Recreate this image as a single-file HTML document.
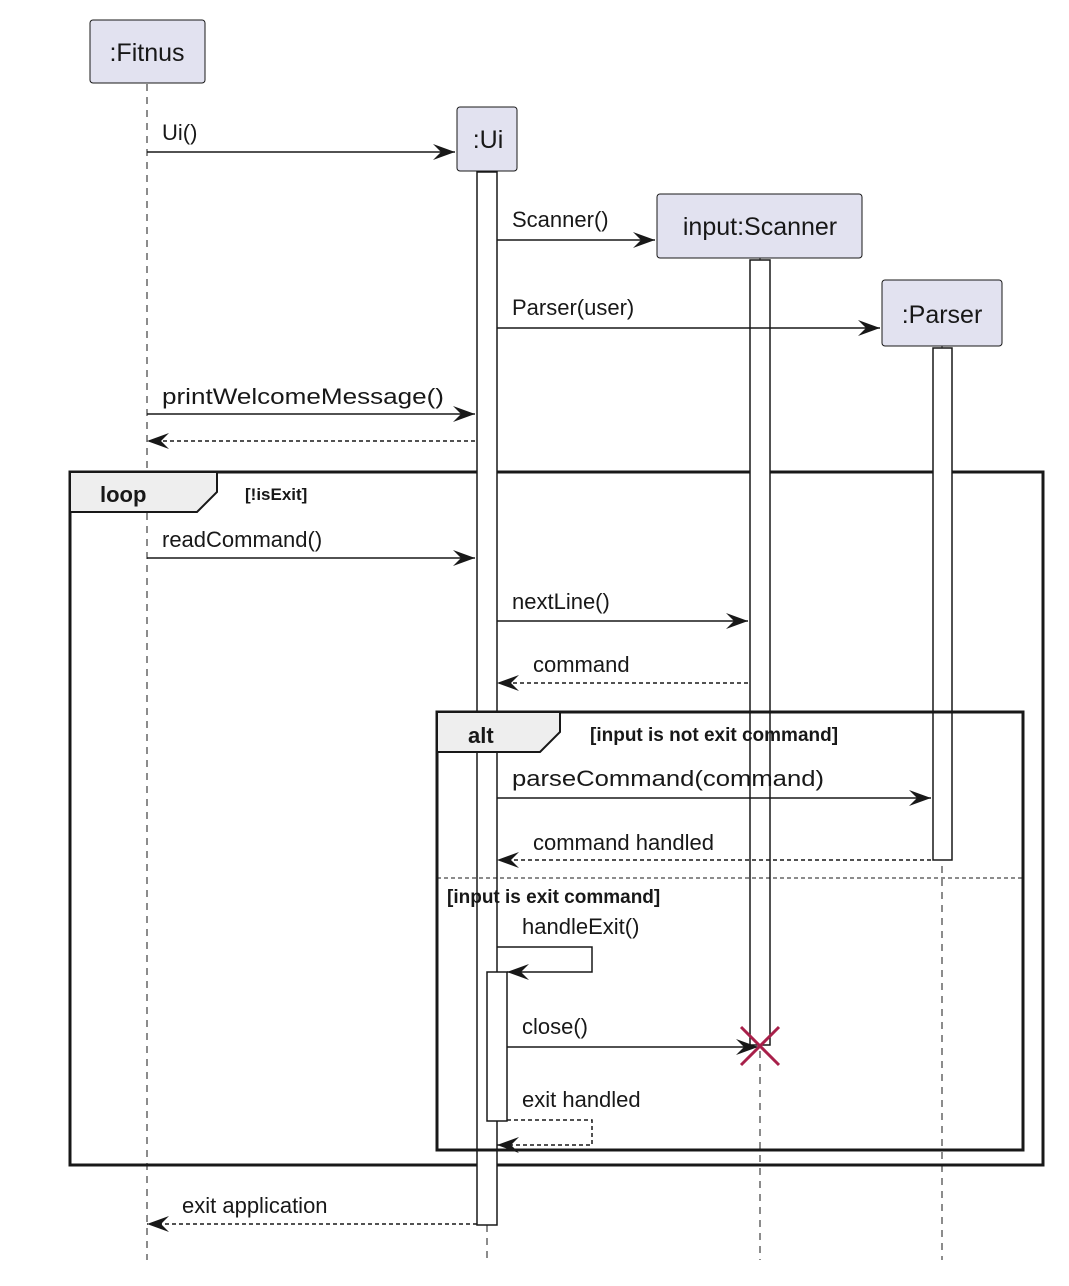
<!DOCTYPE html>
<html><head><meta charset="utf-8"><style>html,body{margin:0;padding:0;background:#fff}svg{display:block}</style></head>
<body>
<svg width="1069" height="1286" viewBox="0 0 1069 1286" xmlns="http://www.w3.org/2000/svg" font-family="Liberation Sans, sans-serif">
<defs>
<marker id="ah" markerWidth="24" markerHeight="18" refX="22" refY="9" orient="auto" markerUnits="userSpaceOnUse">
<path d="M0,1 L22,9 L0,17 L8,9 Z" fill="#181818"/>
</marker>
</defs>
<rect width="1069" height="1286" fill="#fff"/>
<g stroke="#181818" stroke-width="1" stroke-dasharray="7,6" fill="none">
<line x1="147" y1="84" x2="147" y2="1260"/>
<line x1="487" y1="172" x2="487" y2="1260"/>
<line x1="760" y1="258" x2="760" y2="1260"/>
<line x1="942" y1="346" x2="942" y2="1260"/>
</g>
<g fill="#e2e2f0" stroke="#181818" stroke-width="1">
<rect x="90" y="20" width="115" height="63" rx="3"/>
<rect x="457" y="107" width="60" height="64" rx="3"/>
<rect x="657" y="194" width="205" height="64" rx="3"/>
<rect x="882" y="280" width="120" height="66" rx="3"/>
</g>
<g font-size="25" fill="#181818" text-anchor="middle">
<text x="147" y="61">:Fitnus</text>
<text x="488" y="148">:Ui</text>
<text x="760" y="235">input:Scanner</text>
<text x="942" y="323">:Parser</text>
</g>
<!-- frames -->
<rect x="70" y="472" width="973" height="693" fill="none" stroke="#181818" stroke-width="3"/>
<path d="M70,472 L217,472 L217,492 L197,512 L70,512 Z" fill="#eee" stroke="#181818" stroke-width="2"/>
<text x="100" y="502" font-size="22" font-weight="bold" fill="#181818">loop</text>
<text x="245" y="500" font-size="17" font-weight="bold" fill="#181818">[!isExit]</text>
<!-- activations -->
<g fill="#fff" stroke="#181818" stroke-width="1.5">
<rect x="477" y="172" width="20" height="1053"/>
<rect x="750" y="260" width="20" height="785"/>
<rect x="933" y="348" width="19" height="512"/>
</g>
<rect x="437" y="712" width="586" height="438" fill="none" stroke="#181818" stroke-width="3"/>
<path d="M437,712 L560,712 L560,732 L540,752 L437,752 Z" fill="#eee" stroke="#181818" stroke-width="2"/>
<text x="468" y="743" font-size="22" font-weight="bold" fill="#181818">alt</text>
<text x="590" y="741" font-size="19" font-weight="bold" fill="#181818">[input is not exit command]</text>
<line x1="437" y1="878" x2="1023" y2="878" stroke="#181818" stroke-width="1" stroke-dasharray="4,3"/>
<text x="447" y="903" font-size="19" font-weight="bold" fill="#181818">[input is exit command]</text>
<rect x="487" y="972" width="20" height="149" fill="#fff" stroke="#181818" stroke-width="1.5"/>
<!-- messages -->
<g stroke="#181818" stroke-width="1.5" fill="none" marker-end="url(#ah)">
<line x1="147" y1="152" x2="455" y2="152"/>
<line x1="497" y1="240" x2="655" y2="240"/>
<line x1="497" y1="328" x2="880" y2="328"/>
<line x1="147" y1="414" x2="475" y2="414"/>
<line x1="147" y1="558" x2="475" y2="558"/>
<line x1="497" y1="621" x2="748" y2="621"/>
<line x1="497" y1="798" x2="931" y2="798"/>
<polyline points="497,947 592,947 592,972 507,972"/>
<line x1="507" y1="1047" x2="758" y2="1047"/>
</g>
<g stroke="#181818" stroke-width="1.5" fill="none" stroke-dasharray="4,3" marker-end="url(#ah)">
<line x1="475" y1="441" x2="147" y2="441"/>
<line x1="748" y1="683" x2="497" y2="683"/>
<line x1="931" y1="860" x2="497" y2="860"/>
<polyline points="507,1120 592,1120 592,1145 497,1145"/>
<line x1="477" y1="1224" x2="147" y2="1224"/>
</g>
<g stroke="#a8204a" stroke-width="3">
<line x1="741" y1="1027" x2="779" y2="1065"/>
<line x1="779" y1="1027" x2="741" y2="1065"/>
</g>
<g font-size="22" fill="#181818">
<text x="162" y="140">Ui()</text>
<text x="512" y="227">Scanner()</text>
<text x="512" y="315">Parser(user)</text>
<text x="162" y="404" textLength="282" lengthAdjust="spacingAndGlyphs">printWelcomeMessage()</text>
<text x="162" y="547">readCommand()</text>
<text x="512" y="609">nextLine()</text>
<text x="533" y="672">command</text>
<text x="512" y="786" textLength="312" lengthAdjust="spacingAndGlyphs">parseCommand(command)</text>
<text x="533" y="850">command handled</text>
<text x="522" y="934">handleExit()</text>
<text x="522" y="1034">close()</text>
<text x="522" y="1107">exit handled</text>
<text x="182" y="1213">exit application</text>
</g>
</svg>
</body></html>
